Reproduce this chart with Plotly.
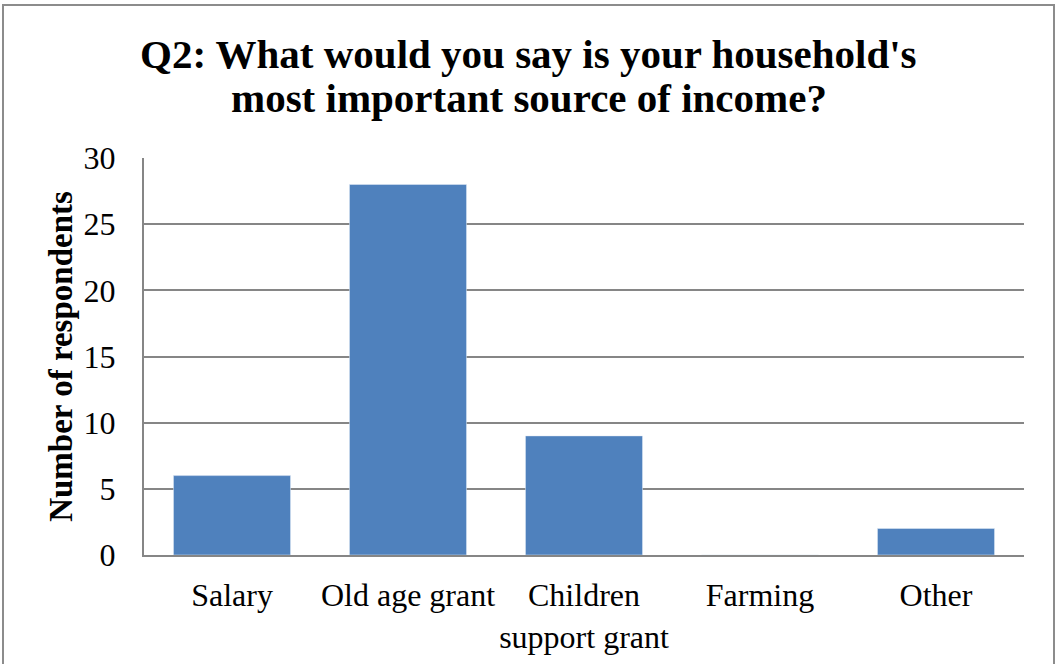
import plotly.graph_objects as go

# Survey responses: main household income source
categories = ["Salary", "Old age grant", "Children<br>support grant", "Farming", "Other"]
respondents = [6, 28, 9, 0, 2]
y_ticks = [0, 5, 10, 15, 20, 25, 30]
title_lines = [
    "Q2: What would you say is your household's",
    "most important source of income?",
]

W, H = 1057, 664
L, R, T, B = 144, 33, 158, 109
pw, ph = W - L - R, H - T - B

def px_x(x):
    return (x - L) / pw

def px_y(y):
    return (H - B - y) / ph

fig = go.Figure(
    go.Bar(
        x=categories,
        y=respondents,
        marker=dict(color="#4F81BD"),
        width=0.665,
        hoverinfo="x+y",
    )
)

fig.update_layout(
    width=W,
    height=H,
    margin=dict(l=L, r=R, t=T, b=B, autoexpand=False),
    paper_bgcolor="white",
    plot_bgcolor="white",
    showlegend=False,
    font=dict(family="Liberation Serif, Times New Roman, serif", color="black"),
    xaxis=dict(
        showgrid=False,
        showline=True,
        linecolor="#868686",
        linewidth=2,
        ticks="",
        tickfont=dict(size=32),
        ticklabelstandoff=11,
        range=[-0.5, 4.5],
        automargin=False,
    ),
    yaxis=dict(
        range=[0, 30],
        tickvals=y_ticks,
        showgrid=True,
        gridcolor="#868686",
        gridwidth=1.5,
        showline=True,
        linecolor="#868686",
        linewidth=2,
        ticks="",
        tickfont=dict(size=32),
        ticklabelstandoff=20,
        zeroline=False,
        automargin=False,
        title=dict(
            text="<b>Number of respondents</b>",
            font=dict(size=33),
            standoff=1,
        ),
    ),
)

# Two-line chart heading centred on the full chart width
for line, y_px in zip(title_lines, [54, 98]):
    fig.add_annotation(
        text=f"<b>{line}</b>",
        xref="paper",
        yref="paper",
        x=px_x(W / 2),
        y=px_y(y_px),
        xanchor="center",
        yanchor="middle",
        showarrow=False,
        font=dict(size=41, family="Liberation Serif, Times New Roman, serif", color="black"),
    )

# Outer chart border
fig.add_shape(
    type="rect",
    xref="paper",
    yref="paper",
    x0=px_x(3),
    x1=px_x(1054),
    y0=px_y(5),
    y1=px_y(690),
    line=dict(color="#8C8C8C", width=2),
    fillcolor="rgba(0,0,0,0)",
    layer="below",
)

fig.write_html("out.html")
